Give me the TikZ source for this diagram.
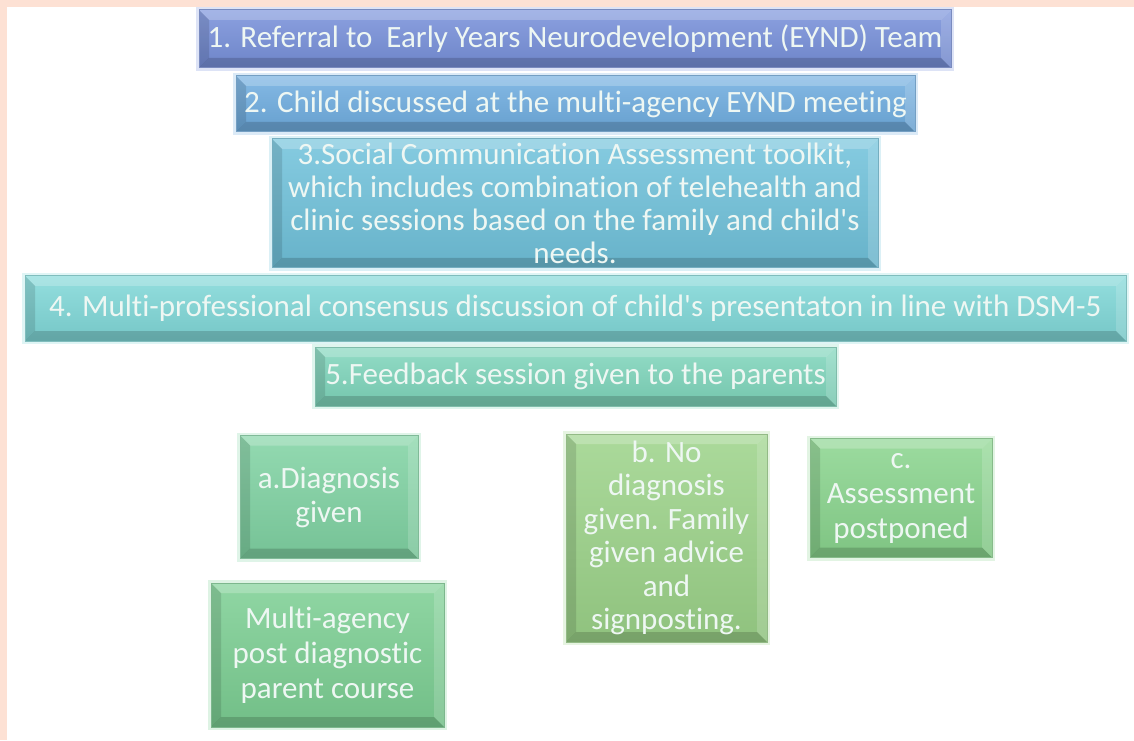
\documentclass[tikz,border=0pt]{standalone}
\usepackage{fontspec}
\setmainfont{Carlito}[Ligatures={TeXOff,CommonOff}]
\definecolor{peach}{HTML}{FDE1D4}
\definecolor{txt}{HTML}{EEF7F3}
\definecolor{cA}{HTML}{7790DA}
\definecolor{cB}{HTML}{6FADE0}
\definecolor{cC}{HTML}{70C2DB}
\definecolor{cD}{HTML}{80D8D8}
\definecolor{cE}{HTML}{7FD6BC}
\definecolor{cF}{HTML}{80D3A3}
\definecolor{cG}{HTML}{7CCF93}
\definecolor{cH}{HTML}{9CD389}
\definecolor{cI}{HTML}{8AD58E}
\newcommand{\bvw}{10pt}
\tikzset{
  bevelbox/.style={rectangle, inner sep=0pt, align=center, text=txt,
    font=\fontsize{31}{33}\selectfont,
    draw=#1!70!gray, line width=1pt,
    top color=#1!85!white, bottom color=#1!92!black,
    preaction={draw=#1!25!white, line width=6pt},
    path picture={
      \fill[white,opacity=.22] (path picture bounding box.north west) -- (path picture bounding box.north east)
        -- ([shift={(-\bvw,-\bvw)}]path picture bounding box.north east) -- ([shift={(\bvw,-\bvw)}]path picture bounding box.north west) -- cycle;
      \fill[black,opacity=.12] (path picture bounding box.north west) -- ([shift={(\bvw,-\bvw)}]path picture bounding box.north west)
        -- ([shift={(\bvw,\bvw)}]path picture bounding box.south west) -- (path picture bounding box.south west) -- cycle;
      \fill[black,opacity=.16] (path picture bounding box.south west) -- (path picture bounding box.south east)
        -- ([shift={(-\bvw,\bvw)}]path picture bounding box.south east) -- ([shift={(\bvw,\bvw)}]path picture bounding box.south west) -- cycle;
      \fill[white,opacity=.16] (path picture bounding box.north east) -- (path picture bounding box.south east)
        -- ([shift={(-\bvw,\bvw)}]path picture bounding box.south east) -- ([shift={(-\bvw,-\bvw)}]path picture bounding box.north east) -- cycle;
    }},
}
\begin{document}
\begin{tikzpicture}
\useasboundingbox (0,0) rectangle (1134pt,740pt);
\fill[peach] (0,0) rectangle (1134pt,740pt);
\fill[white] (7pt,0) rectangle (1134pt,733pt);

\node[bevelbox=cA, minimum width=752pt, minimum height=58pt] (s1) at (575pt,701pt)
  {1. Referral to\ \ Early Years Neurodevelopment (EYND) Team};
\node[bevelbox=cB, minimum width=679pt, minimum height=56pt] (s2) at (575.5pt,636pt)
  {2. Child discussed at the multi-agency EYND meeting};
\node[bevelbox=cC, minimum width=606pt, minimum height=129pt] (s3) at (575pt,536.5pt)
  {3.Social Communication Assessment toolkit,\\ which includes combination of telehealth and\\ clinic sessions based on the family and child's\\ needs.};
\node[bevelbox=cD, minimum width=1101pt, minimum height=65pt] (s4) at (575.5pt,431.5pt)
  {4. Multi-professional consensus discussion of child's presentaton in line with DSM-5};
\node[bevelbox=cE, minimum width=521pt, minimum height=59pt] (s5) at (575.5pt,363.5pt)
  {5.Feedback session given to the parents};
\node[bevelbox=cF, minimum width=178pt, minimum height=123pt, font=\fontsize{31}{34}\selectfont] (oa) at (329pt,243pt)
  {a.Diagnosis\\ given};
\node[bevelbox=cG, minimum width=233pt, minimum height=144pt, font=\fontsize{31}{35}\selectfont] (pc) at (327.5pt,85pt)
  {Multi-agency\\ post diagnostic\\ parent course};
\node[bevelbox=cH, minimum width=201pt, minimum height=208pt, font=\fontsize{31}{33.5}\selectfont] (ob) at (666.5pt,202pt)
  {b. No\\ diagnosis\\ given. Family\\ given advice\\ and\\ signposting.};
\node[bevelbox=cI, minimum width=182pt, minimum height=119pt, font=\fontsize{31}{35}\selectfont] (oc) at (901pt,242pt)
  {c.\\ Assessment\\ postponed};
\end{tikzpicture}
\end{document}
